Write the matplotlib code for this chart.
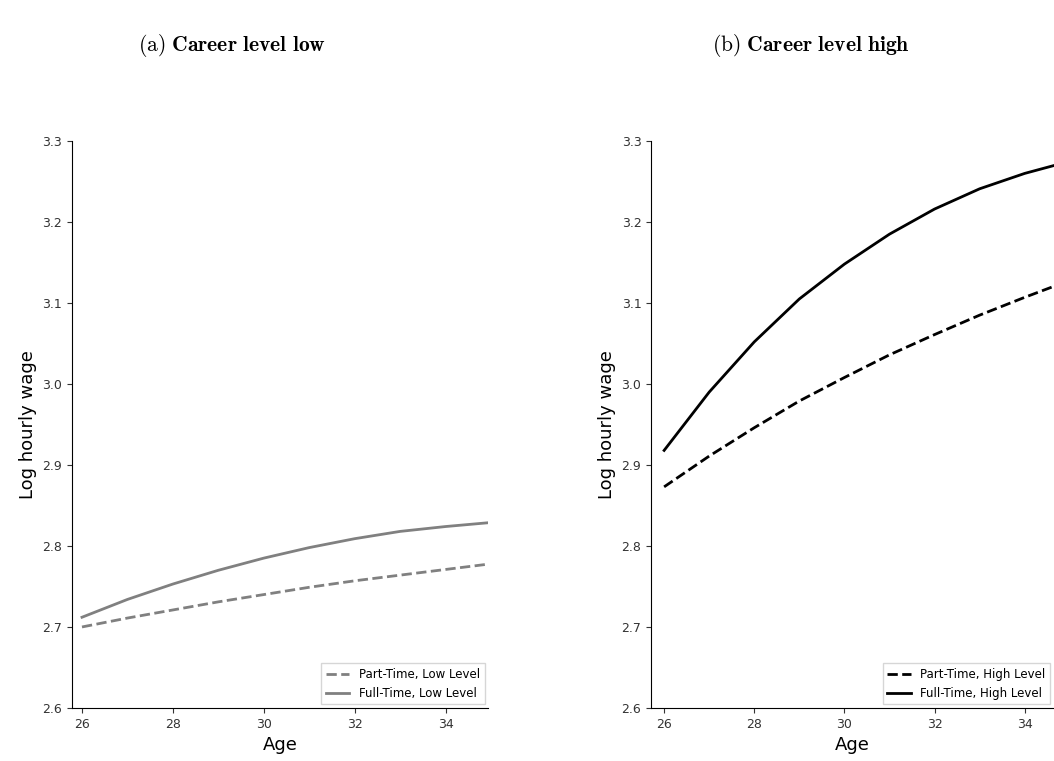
import matplotlib
matplotlib.use("Agg")
import matplotlib.pyplot as plt

ages = list(range(26, 36))
pt_low = [2.700, 2.711, 2.721, 2.731, 2.740, 2.749, 2.757, 2.764, 2.771, 2.778]
ft_low = [2.712, 2.734, 2.753, 2.770, 2.785, 2.798, 2.809, 2.818, 2.824, 2.829]
pt_high = [2.873, 2.911, 2.946, 2.979, 3.008, 3.036, 3.061, 3.085, 3.107, 3.128]
ft_high = [2.918, 2.990, 3.052, 3.105, 3.148, 3.185, 3.216, 3.241, 3.260, 3.275]
yticks = [2.6, 2.7, 2.8, 2.9, 3.0, 3.1, 3.2, 3.3]
xticks = [26, 28, 30, 32, 34]

plt.rcParams["mathtext.fontset"] = "cm"
fig = plt.figure(figsize=(10.54, 7.61), dpi=100)

panels = [
    (0.0683, 0.395, (25.78, 34.94), pt_low, ft_low, "#808080", "Low",
     r"$\mathrm{(a)}\ \mathbf{Career\ level\ low}$"),
    (0.6177, 0.3823, (25.71, 34.65), pt_high, ft_high, "black", "High",
     r"$\mathrm{(b)}\ \mathbf{Career\ level\ high}$"),
]
for left, width, xlim, pt, ft, col, lvl, title in panels:
    ax = fig.add_axes([left, 0.0697, width, 0.745])
    ax.plot(ages, pt, ls="--", color=col, lw=2, label=f"Part-Time, {lvl} Level")
    ax.plot(ages, ft, ls="-", color=col, lw=2, label=f"Full-Time, {lvl} Level")
    ax.set_xlim(*xlim)
    ax.set_ylim(2.6, 3.3)
    ax.set_yticks(yticks)
    ax.set_xticks(xticks)
    ax.tick_params(labelsize=9, labelcolor="#333333", color="#333333")
    ax.spines["top"].set_visible(False)
    ax.spines["right"].set_visible(False)
    ax.set_xlabel("Age", fontsize=13)
    ax.set_ylabel("Log hourly wage", fontsize=13)
    ax.legend(loc="lower right", fontsize=8.5, fancybox=False, borderaxespad=0.3)
    fig.text(left + 0.152, 0.94, title, fontsize=15.5, ha="center", va="center")

fig.savefig("out.png", dpi=100)
